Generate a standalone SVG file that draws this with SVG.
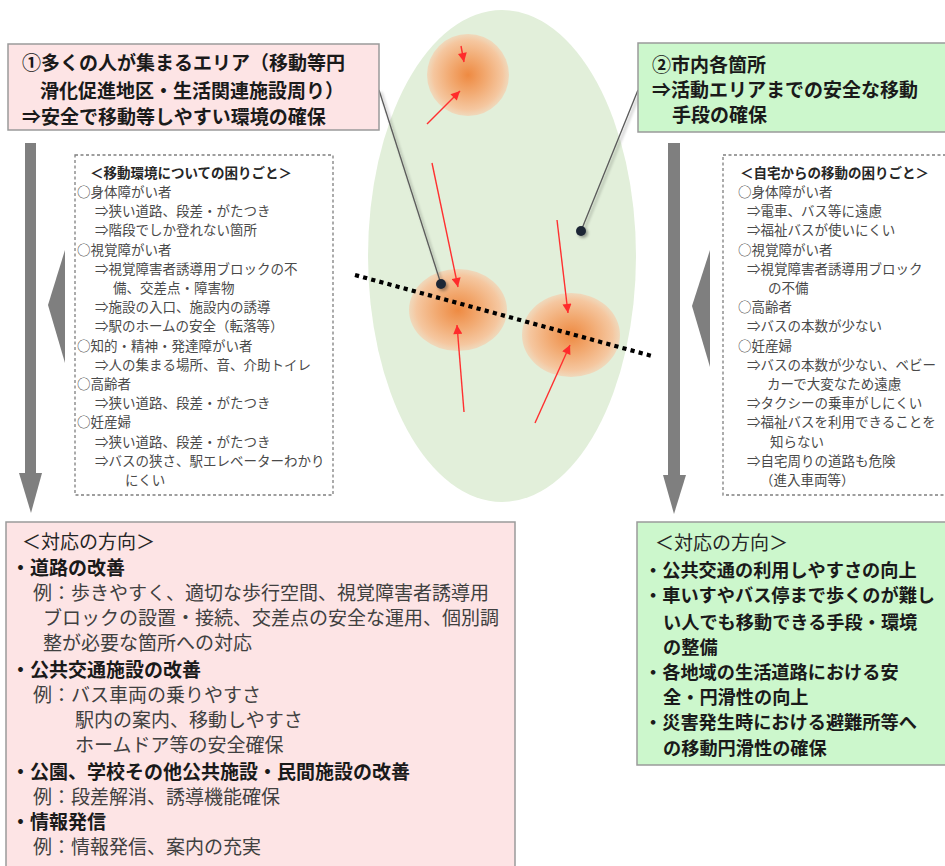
<svg xmlns="http://www.w3.org/2000/svg" width="945" height="866" viewBox="0 0 945 866">
<defs>
<radialGradient id="og" cx="0.5" cy="0.5" r="0.5">
<stop offset="0" stop-color="#ee8a42"/>
<stop offset="0.45" stop-color="#f2aa72"/>
<stop offset="0.85" stop-color="#f5c7a0"/>
<stop offset="1" stop-color="#f5cfae" stop-opacity="0.7"/>
</radialGradient>
<marker id="ah" viewBox="0 0 10 10" refX="10" refY="5" markerWidth="10" markerHeight="9" markerUnits="userSpaceOnUse" orient="auto">
<path d="M0,0 L10,5 L0,10 z" fill="#ff2b2b"/>
</marker>
<filter id="sh" x="-20%" y="-20%" width="140%" height="140%">
<feGaussianBlur in="SourceAlpha" stdDeviation="1.5"/>
<feOffset dx="2" dy="2"/>
<feComponentTransfer><feFuncA type="linear" slope="0.35"/></feComponentTransfer>
<feMerge><feMergeNode/><feMergeNode in="SourceGraphic"/></feMerge>
</filter>
</defs>
<style>
text{font-family:"Noto Sans CJK JP","Noto Sans",sans-serif;}
.big{font-size:19px;font-weight:bold;fill:#1a1a1a;}
.bigr{font-size:19px;fill:#262626;}
.body{font-size:19px;fill:#404040;}
.sm{font-size:13.5px;fill:#4a4a4a;}
.smh{font-size:13.5px;font-weight:bold;fill:#262626;}
.rb{font-size:18.2px;}
.pink{fill:#fde4e5;stroke:#9a9a9a;stroke-width:1.5;}
.green{fill:#ccf7cc;stroke:#9a9a9a;stroke-width:1.5;}
.dash{fill:#ffffff;stroke:#7f7f7f;stroke-width:1.3;stroke-dasharray:3 2.5;}
.gray{fill:#7f7f7f;}
.red{stroke:#ff3030;stroke-width:1.4;fill:none;marker-end:url(#ah);}
.lead{stroke:#5a5a5a;stroke-width:1.3;fill:none;}
</style>

<g id="area">
<ellipse cx="502" cy="256" rx="134" ry="246" fill="#e2efda"/>
<ellipse cx="468" cy="75" rx="41" ry="41" fill="url(#og)"/>
<ellipse cx="458" cy="310" rx="49" ry="41" fill="url(#og)"/>
<ellipse cx="571" cy="335" rx="49" ry="42" fill="url(#og)"/>
</g>

<g id="connectors">
<line class="red" x1="461" y1="46" x2="464" y2="62"/>
<line class="red" x1="427" y1="124" x2="460" y2="91"/>
<line class="red" x1="432" y1="163" x2="458" y2="287"/>
<line class="red" x1="464" y1="412" x2="457" y2="325"/>
<line class="red" x1="557" y1="220" x2="568" y2="313"/>
<line class="red" x1="535" y1="423" x2="570" y2="345"/>
<line x1="355" y1="275" x2="652" y2="356" stroke="#000" stroke-width="4.2" stroke-dasharray="4.2 4.2"/>
<g filter="url(#sh)">
<line class="lead" x1="379" y1="90" x2="441" y2="284"/>
<circle cx="441" cy="284" r="5" fill="#1e2836"/>
<line class="lead" x1="638" y1="90" x2="581" y2="231"/>
<circle cx="581" cy="231" r="5" fill="#1e2836"/>
</g>
<rect class="gray" x="25" y="143" width="11" height="331"/>
<polygon class="gray" points="19,473 42,473 31,513"/>
<rect class="gray" x="668" y="143" width="12" height="333"/>
<polygon class="gray" points="663,475 686,475 674,514"/>
<polygon class="gray" points="65,250 48,305 65,363"/>
<polygon class="gray" points="710,250 692,306 710,367"/>
</g>

<g id="box1">
<rect class="pink" x="8" y="44" width="371" height="86"/>
<text class="big" x="22" y="70">①多くの人が集まるエリア（移動等円</text>
<text class="big" x="40" y="98">滑化促進地区・生活関連施設周り）</text>
<text class="big" x="22" y="124">⇒安全で移動等しやすい環境の確保</text>
</g>

<g id="box2">
<rect class="green" x="638" y="43" width="320" height="89"/>
<text class="big" x="652" y="72">②市内各箇所</text>
<text class="big" x="652" y="97">⇒活動エリアまでの安全な移動</text>
<text class="big" x="672" y="122">手段の確保</text>
</g>

<g id="issues1">
<rect class="dash" x="75" y="155" width="258" height="340"/>
<text class="smh" x="90" y="178">＜移動環境についての困りごと＞</text>
<text class="sm" x="77" y="197">○身体障がい者</text>
<text class="sm" x="95" y="216.2">⇒狭い道路、段差・がたつき</text>
<text class="sm" x="95" y="235.4">⇒階段でしか登れない箇所</text>
<text class="sm" x="77" y="254.6">○視覚障がい者</text>
<text class="sm" x="95" y="273.8">⇒視覚障害者誘導用ブロックの不</text>
<text class="sm" x="113" y="293">備、交差点・障害物</text>
<text class="sm" x="95" y="312.2">⇒施設の入口、施設内の誘導</text>
<text class="sm" x="95" y="331.4">⇒駅のホームの安全（転落等）</text>
<text class="sm" x="77" y="350.6">○知的・精神・発達障がい者</text>
<text class="sm" x="95" y="369.8">⇒人の集まる場所、音、介助トイレ</text>
<text class="sm" x="77" y="389">○高齢者</text>
<text class="sm" x="95" y="408.2">⇒狭い道路、段差・がたつき</text>
<text class="sm" x="77" y="427.4">○妊産婦</text>
<text class="sm" x="95" y="446.6">⇒狭い道路、段差・がたつき</text>
<text class="sm" x="95" y="465.8">⇒バスの狭さ、駅エレベーターわかり</text>
<text class="sm" x="125" y="485">にくい</text>
</g>

<g id="issues2">
<rect class="dash" x="723" y="155" width="240" height="340"/>
<text class="smh" x="740" y="178">＜自宅からの移動の困りごと＞</text>
<text class="sm" x="738" y="197">○身体障がい者</text>
<text class="sm" x="747" y="216.2">⇒電車、バス等に遠慮</text>
<text class="sm" x="747" y="235.4">⇒福祉バスが使いにくい</text>
<text class="sm" x="738" y="254.6">○視覚障がい者</text>
<text class="sm" x="747" y="273.8">⇒視覚障害者誘導用ブロック</text>
<text class="sm" x="768" y="293">の不備</text>
<text class="sm" x="738" y="312.2">○高齢者</text>
<text class="sm" x="747" y="331.4">⇒バスの本数が少ない</text>
<text class="sm" x="738" y="350.6">○妊産婦</text>
<text class="sm" x="747" y="369.8">⇒バスの本数が少ない、ベビー</text>
<text class="sm" x="767" y="389">カーで大変なため遠慮</text>
<text class="sm" x="747" y="408.2">⇒タクシーの乗車がしにくい</text>
<text class="sm" x="747" y="427.4">⇒福祉バスを利用できることを</text>
<text class="sm" x="770" y="446.6">知らない</text>
<text class="sm" x="747" y="465.8">⇒自宅周りの道路も危険</text>
<text class="sm" x="760" y="485">（進入車両等）</text>
</g>

<g id="policy1">
<rect class="pink" x="6" y="522" width="509" height="360"/>
<text class="bigr" x="22" y="549">＜対応の方向＞</text>
<text class="big" x="11" y="575">・道路の改善</text>
<text class="body" x="33" y="600">例：歩きやすく、適切な歩行空間、視覚障害者誘導用</text>
<text class="body" x="43" y="625">ブロックの設置・接続、交差点の安全な運用、個別調</text>
<text class="body" x="43" y="650">整が必要な箇所への対応</text>
<text class="big" x="11" y="677">・公共交通施設の改善</text>
<text class="body" x="33" y="702">例：バス車両の乗りやすさ</text>
<text class="body" x="75" y="727">駅内の案内、移動しやすさ</text>
<text class="body" x="75" y="752">ホームドア等の安全確保</text>
<text class="big" x="11" y="779">・公園、学校その他公共施設・民間施設の改善</text>
<text class="body" x="33" y="804">例：段差解消、誘導機能確保</text>
<text class="big" x="11" y="829">・情報発信</text>
<text class="body" x="33" y="854">例：情報発信、案内の充実</text>
</g>

<g id="policy2">
<rect class="green" x="637" y="522" width="320" height="243"/>
<text class="bigr" x="655" y="550">＜対応の方向＞</text>
<text class="big rb" x="644" y="577">・公共交通の利用しやすさの向上</text>
<text class="big rb" x="644" y="602">・車いすやバス停まで歩くのが難し</text>
<text class="big rb" x="663" y="629">い人でも移動できる手段・環境</text>
<text class="big rb" x="663" y="654">の整備</text>
<text class="big rb" x="644" y="679">・各地域の生活道路における安</text>
<text class="big rb" x="663" y="704">全・円滑性の向上</text>
<text class="big rb" x="644" y="729">・災害発生時における避難所等へ</text>
<text class="big rb" x="663" y="755">の移動円滑性の確保</text>
</g>
</svg>
